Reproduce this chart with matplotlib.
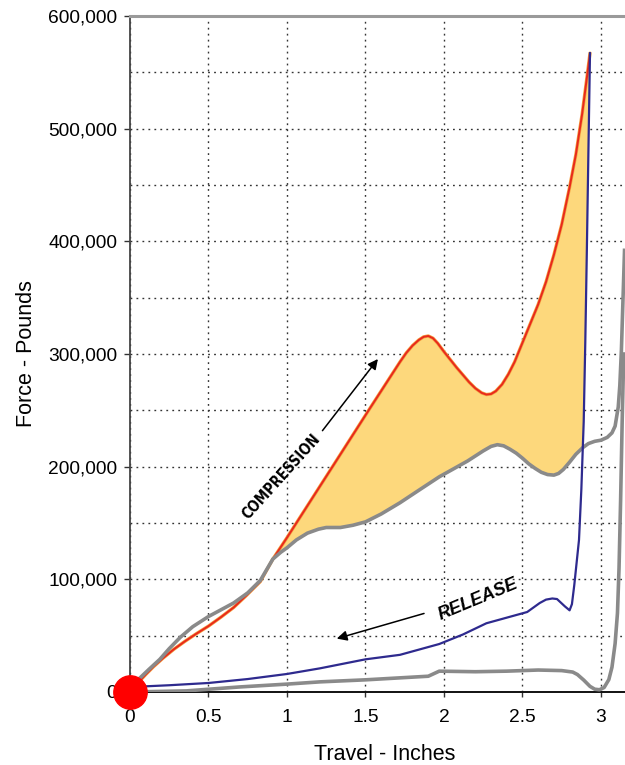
import numpy as np
import matplotlib
matplotlib.use("Agg")
import matplotlib.pyplot as plt
from matplotlib import font_manager
from matplotlib.ticker import FuncFormatter, MultipleLocator

plt.rcParams["font.family"] = ["Liberation Sans", "DejaVu Sans"]

# travel (in) / force (lb) readings
comp_x = [0.00, 0.05, 0.10, 0.15, 0.21, 0.28, 0.35, 0.42, 0.50, 0.58, 0.66, 0.74,
          0.83, 0.91, 1.00, 1.29, 1.52, 1.72, 1.76, 1.80, 1.84, 1.87, 1.90, 1.93,
          1.96, 2.00, 2.04, 2.08, 2.12, 2.16, 2.20, 2.24, 2.27, 2.30, 2.33, 2.37,
          2.41, 2.45, 2.50, 2.55, 2.60, 2.65, 2.70, 2.75, 2.80, 2.84, 2.88, 2.91, 2.93]
comp_y = [0, 8000, 15500, 22500, 30000, 38000, 45000, 51500, 58500, 66500, 75000, 85500,
          98000, 118000, 137000, 200000, 250000, 293000, 301000, 307500, 312500, 315200,
          316000, 314000, 309500, 302000, 295000, 288000, 281500, 275000, 269500, 265500,
          264000, 264500, 267000, 273000, 282000, 293000, 310000, 327000, 344000, 364000,
          388000, 415000, 448000, 477000, 513000, 545000, 567000]

base_x = [0.00, 0.03, 0.06, 0.12, 0.19, 0.25, 0.32, 0.40, 0.50, 0.58, 0.66, 0.75,
          0.83, 0.91, 0.96, 1.00, 1.06, 1.13, 1.20, 1.25, 1.34, 1.42, 1.50, 1.60,
          1.72, 1.85, 1.97, 2.06, 2.15, 2.25, 2.30, 2.34, 2.38, 2.42, 2.46, 2.50,
          2.54, 2.58, 2.62, 2.66, 2.70, 2.73, 2.76, 2.80, 2.84, 2.885, 2.92, 2.96,
          3.00, 3.04, 3.07, 3.09, 3.11, 3.12, 3.13, 3.15]
base_y = [0, 6500, 12000, 20000, 29000, 38500, 48500, 58000, 67000, 73000, 79000, 88000,
          99000, 118000, 124000, 128000, 135000, 141000, 144500, 146000, 146000, 148000,
          151000, 158000, 168000, 180000, 191000, 198000, 205000, 214000, 218000, 219500,
          218500, 215500, 212000, 207500, 202500, 198500, 195000, 193000, 192500, 194000,
          197500, 204000, 211000, 217000, 220500, 222500, 223500, 226000, 230000, 236000,
          253000, 272000, 303000, 392000]

rel_x = [0.00, 0.25, 0.50, 0.75, 1.00, 1.21, 1.50, 1.72, 1.97, 2.12, 2.27, 2.40,
         2.53, 2.61, 2.65, 2.69, 2.72, 2.77, 2.80, 2.815, 2.83, 2.86, 2.875, 2.89,
         2.90, 2.91, 2.92, 2.93]
rel_y = [4400, 6000, 8000, 11500, 16000, 21000, 29000, 33000, 42600, 51000, 61000, 66000,
         71000, 79000, 82000, 83000, 82500, 76000, 72500, 78000, 95000, 135000, 180000,
         240000, 310000, 392000, 480000, 567000]

low_x = [0.00, 0.36, 0.70, 1.00, 1.21, 1.50, 1.90, 1.97, 2.20, 2.40, 2.60, 2.75,
         2.82, 2.85, 2.89, 2.93, 2.96, 2.99, 3.02, 3.05, 3.07, 3.09, 3.105, 3.115,
         3.125, 3.135, 3.145]
low_y = [0, 1000, 4500, 7000, 9000, 10800, 14000, 18500, 18000, 18500, 19500, 19000,
         17700, 15500, 10600, 5000, 2500, 2000, 4000, 11000, 22000, 43000, 70000, 110000,
         170000, 240000, 300000]

x_ticks = [0, 0.5, 1, 1.5, 2, 2.5, 3]
x_tick_labels = ["0", "0.5", "1", "1.5", "2", "2.5", "3"]

# narrow face for the diagonal caption, if one is installed
installed = {(f.name, f.stretch) for f in font_manager.fontManager.ttflist}
if any(n == "Liberation Sans Narrow" for n, _ in installed):
    narrow = dict(family=["Liberation Sans Narrow", "DejaVu Sans"], fontsize=12)
elif ("DejaVu Sans", "condensed") in installed:
    narrow = dict(family=["DejaVu Sans"], fontstretch="condensed", fontsize=10.5)
else:
    narrow = dict(family=["Liberation Sans", "DejaVu Sans"], fontsize=9.5)

fig = plt.figure(figsize=(6.25, 7.65), dpi=100)
ax = fig.add_axes([130 / 625, 73 / 765, 495 / 625, 676 / 765])

# shaded region between loading curve and the gray trace
i0 = comp_x.index(0.91)
j0 = base_x.index(0.91)
j1 = base_x.index(2.885)
poly_x = np.concatenate([comp_x[i0:], base_x[j0:j1 + 1][::-1]])
poly_y = np.concatenate([comp_y[i0:], base_y[j0:j1 + 1][::-1]])
ax.fill(poly_x, poly_y, color="#fdd87c", lw=0, zorder=2)

ax.plot(comp_x, comp_y, color="#f5a040", lw=2.4, solid_capstyle="round", zorder=3)
ax.plot(comp_x, comp_y, color="#e8291c", lw=1.4, solid_capstyle="round", zorder=3.1)
ax.plot(base_x, base_y, color="#8a8a8a", lw=2.6, zorder=3.2)
ax.plot(low_x, low_y, color="#8a8a8a", lw=2.6, zorder=3.2)
ax.plot(rel_x, rel_y, color="#2e2a8e", lw=1.6, zorder=3.3)

ax.plot([0], [0], "o", color="#ff0000", markersize=24, clip_on=False, zorder=10)

# arrows + labels
ax.annotate("", xy=(1.59, 297500), xytext=(1.215, 230000),
            arrowprops=dict(arrowstyle="-|>", color="black", lw=1.1, mutation_scale=15),
            zorder=5)
ax.annotate("", xy=(1.30, 46700), xytext=(1.89, 70400),
            arrowprops=dict(arrowstyle="-|>", color="black", lw=1.1, mutation_scale=15),
            zorder=5)
ax.text(0.962, 191000, "COMPRESSION", rotation=48, ha="center", va="center",
        fontweight="bold", zorder=5, **narrow)
ax.text(2.217, 82500, "RELEASE", rotation=22.6, ha="center", va="center",
        fontsize=13, fontweight="bold", fontstyle="italic", zorder=5)

ax.set_xlim(0, 3.153)
ax.set_ylim(0, 600000)
ax.set_xticks(x_ticks)
ax.set_xticklabels(x_tick_labels)
ax.yaxis.set_major_locator(MultipleLocator(100000))
ax.yaxis.set_minor_locator(MultipleLocator(50000))
ax.xaxis.set_minor_locator(MultipleLocator(0.5))
ax.yaxis.set_major_formatter(FuncFormatter(lambda v, p: f"{int(v):,}"))

ax.tick_params(axis="y", which="major", length=4.3, width=1, pad=5, labelsize=13.8,
               color="#333333")
ax.tick_params(axis="x", which="major", length=3.6, width=1, pad=9, labelsize=13.8,
               color="#333333")
ax.tick_params(which="minor", length=0)

ax.grid(True, which="both", color="#333333", lw=1.0, linestyle=(0, (1.3, 3.0)))
ax.set_axisbelow(True)

ax.spines["right"].set_visible(False)
ax.spines["top"].set_color("#9a9a9a")
ax.spines["top"].set_linewidth(2.2)
ax.spines["left"].set_color("#444444")
ax.spines["left"].set_linewidth(1.3)
ax.spines["bottom"].set_color("#111111")
ax.spines["bottom"].set_linewidth(1.4)

ax.set_xlabel("Travel - Inches", fontsize=15.5)
ax.set_ylabel("Force - Pounds", fontsize=15.5)
ax.xaxis.set_label_coords(0.515, -0.077)
ax.yaxis.set_label_coords(-0.188, 0.5)

fig.savefig("out.png", dpi=100)
